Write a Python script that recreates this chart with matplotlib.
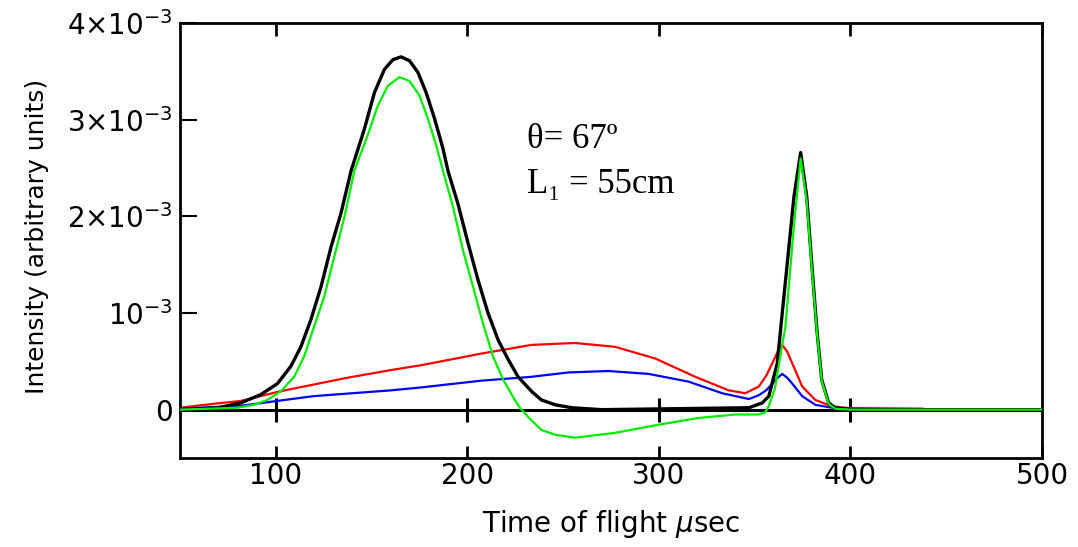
import numpy as np
import matplotlib.pyplot as plt

plt.rcParams['font.family'] = ['DejaVu Sans']
plt.rcParams['mathtext.fontset'] = 'dejavusans'

# curves (intensity in units of 1e-3)
black_t = [50, 70, 81.7, 92.1, 100.9, 107.9, 113.1, 118.3, 123.6, 128.8, 134, 139.3, 146.2, 151.5,
           156.7, 161.1, 165.4, 169.8, 174.2, 178.5, 182.9, 187.3, 189.9, 195.1, 200.4, 205.6,
           210.8, 216.1, 221.3, 226.5, 233.5, 238.7, 246, 254.5, 270, 347, 354, 357.4, 361.8,
           364.4, 367, 370.5, 374, 377.2, 379.8, 382.5, 385, 388.6, 392, 400, 500]
black_i = [0.0, 0.02, 0.07, 0.155, 0.27, 0.45, 0.65, 0.93, 1.27, 1.68, 2.03, 2.47, 2.90, 3.28,
           3.52, 3.62, 3.65, 3.61, 3.49, 3.28, 3.01, 2.70, 2.47, 2.13, 1.72, 1.34,
           1.0, 0.72, 0.52, 0.34, 0.19, 0.10, 0.05, 0.02, 0.0, 0.02, 0.07, 0.14, 0.48,
           1.0, 1.51, 2.2, 2.66, 2.2, 1.51, 0.82, 0.31, 0.07, 0.02, 0.0, 0.0]

green_t = [50, 80, 88.6, 95.6, 102.6, 109.6, 114.8, 120, 125.3, 130.5, 135.8, 141, 148, 153.2,
           158.5, 164.6, 169.8, 175, 179.4, 183.8, 187.3, 192.5, 197.7, 203, 208.2, 213.4,
           218.7, 224.8, 227.4, 232, 238.7, 246, 256.2, 277.1, 300, 320.7, 339.8, 352, 355.4,
           357.2, 360.6, 364.2, 366, 370.5, 374, 377.2, 379.8, 382.5, 385, 388.6, 392, 400, 500]
green_i = [0.0, 0.02, 0.05, 0.10, 0.19, 0.34, 0.55, 0.86, 1.17, 1.58, 1.99, 2.47, 2.84, 3.14,
           3.35, 3.44, 3.40, 3.25, 3.01, 2.73, 2.47, 2.10, 1.65, 1.27, 0.89, 0.55,
           0.31, 0.10, 0.02, -0.08, -0.21, -0.26, -0.29, -0.24, -0.155, -0.086, -0.05, -0.05, -0.03,
           0.03, 0.22, 0.65, 0.85, 1.9, 2.6, 2.15, 1.47, 0.8, 0.3, 0.06, 0.01, 0.0, 0.0]

red_t = [50, 67.3, 81.7, 102.3, 137.3, 160.2, 175.9, 207.3, 233.5, 256.2, 277.1, 298, 319, 336.4,
         345.1, 352.2, 356, 359.2, 362, 364.4, 367, 369.6, 374.8, 381.7, 390.4, 400, 437.7]
red_i = [0.02, 0.06, 0.09, 0.19, 0.33, 0.41, 0.46, 0.58, 0.67, 0.69, 0.65, 0.53, 0.34, 0.20,
         0.17, 0.24, 0.35, 0.48, 0.60, 0.67, 0.60, 0.48, 0.24, 0.10, 0.034, 0.015, 0.01]

blue_t = [50, 81.7, 119.7, 160.2, 175.9, 207.3, 233.5, 252.7, 273.6, 294.6, 315.5, 333, 347, 352.2,
          356, 359.2, 362, 364.4, 367, 369.6, 374.8, 381.7, 390.4, 400, 500]
blue_i = [0.01, 0.04, 0.14, 0.20, 0.23, 0.30, 0.34, 0.385, 0.40, 0.37, 0.29, 0.17, 0.11, 0.15,
          0.20, 0.27, 0.33, 0.37, 0.33, 0.27, 0.14, 0.05, 0.02, 0.01, 0.0]

xticks = [100, 200, 300, 400, 500]
yticks = [0, 1e-3, 2e-3, 3e-3, 4e-3]
ylabels = ['0', r'$10^{-3}$', r'$2{\times}10^{-3}$', r'$3{\times}10^{-3}$', r'$4{\times}10^{-3}$']

fig = plt.figure(figsize=(10.78, 5.47), dpi=100)
ax = fig.add_axes([180 / 1078, 1 - 458 / 547, 862 / 1078, 435 / 547])

# zero line with the x ticks crossing it
ax.axhline(0, color='black', lw=2.2, zorder=1)
ax.plot(xticks[:-1], [0] * 4, ls='none', marker='|', ms=17, mew=2.2, color='black', zorder=1)

ax.plot(red_t, np.array(red_i) * 1e-3, color='#ff0000', lw=1.6, zorder=2)
ax.plot(blue_t, np.array(blue_i) * 1e-3, color='#0000ff', lw=1.6, zorder=3)
ax.plot(black_t, np.array(black_i) * 1e-3, color='black', lw=2.4, zorder=4)
ax.plot(green_t, np.array(green_i) * 1e-3, color='#00ee00', lw=1.6, zorder=5)

ax.set_xlim(50, 500)
ax.set_ylim(-0.5e-3, 4e-3)
ax.set_xticks(xticks)
ax.set_yticks(yticks)
ax.set_yticklabels(ylabels)
ax.tick_params(axis='x', direction='in', length=9, width=2, top=True, labelsize=20, pad=3)
ax.tick_params(axis='y', direction='in', length=12, width=1.5, labelsize=20, pad=5)
for s in ax.spines.values():
    s.set_linewidth(2)

ax.set_xlabel(r'Time of flight $\mu$sec', fontsize=20, labelpad=13)
fig.text(37 / 1078, 1 - 236 / 547, 'Intensity (arbitrary units)', rotation=90,
         fontsize=18, ha='center', va='center')

serif = ['Liberation Serif', 'DejaVu Serif']
ax.text(0.402, 0.713, 'θ= 67º', transform=ax.transAxes, fontsize=25, family=serif)
ax.text(0.402, 0.609, 'L₁ = 55cm', transform=ax.transAxes, fontsize=25, family=serif)

plt.savefig('out.png')
